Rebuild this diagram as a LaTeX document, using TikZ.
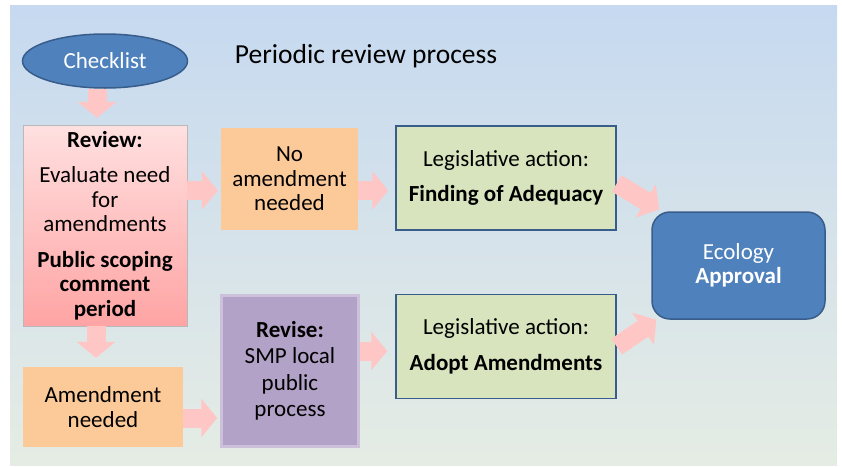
\documentclass[tikz,border=0pt]{standalone}
\usepackage{fontspec}
\setmainfont{Carlito}
\usetikzlibrary{shapes.geometric,arrows.meta}
\definecolor{bluefill}{RGB}{79,129,189}
\definecolor{blueline}{RGB}{56,93,138}
\definecolor{orangefill}{RGB}{252,202,152}
\definecolor{greenfill}{RGB}{215,228,189}
\definecolor{purplefill}{RGB}{179,162,199}
\definecolor{purpleline}{RGB}{204,192,218}
\definecolor{pinktop}{RGB}{255,224,224}
\definecolor{pinkbottom}{RGB}{255,164,164}
\definecolor{arrowpink}{RGB}{255,198,198}
\definecolor{bgtop}{RGB}{198,217,240}
\definecolor{bgbottom}{RGB}{229,236,228}

\begin{document}
\begin{tikzpicture}[x=1pt, y=-1pt, font=\fontsize{23}{24.5}\selectfont,
        box/.style={rectangle, align=center, inner sep=0pt},
        outcome/.style={box, fill=orangefill, minimum width=137pt},
        action/.style={box, fill=greenfill, draw=blueline, line width=1.5pt, minimum width=220pt, minimum height=104pt},
        flow/.style={line width=19pt, draw=arrowpink, -{Triangle[length=16pt,width=38pt]}, shorten >=3pt}]

    \useasboundingbox (0,0) rectangle (842,466);
    \shade[top color=bgtop, bottom color=bgbottom] (10,5) rectangle (837,465);

    \node[ellipse, fill=bluefill, draw=blueline, line width=1.5pt, text=white,
        minimum width=165pt, minimum height=54pt] (chk) at (105,61) {Checklist};
    \node[font=\fontsize{27.5}{32}\selectfont] (ttl) at (366,56) {Periodic review process};

    \node[box, top color=pinktop, bottom color=pinkbottom, draw=gray!55,
        minimum width=164pt, minimum height=201pt] (rev) at (105,225.5)
        {\textbf{Review:}\\[11pt] Evaluate need\\for\\amendments\\[11pt]
         \textbf{Public scoping}\\\textbf{comment}\\\textbf{period}};
    \node[outcome, minimum height=102pt] (noamd) at (289.5,179) {No\\amendment\\needed};
    \node[outcome, minimum width=160pt, minimum height=80pt] (amd) at (103,407) {Amendment\\needed};
    \node[box, fill=purplefill, draw=purpleline, line width=2.5pt,
        minimum width=137pt, minimum height=151pt] (revs) at (290,371)
        {\textbf{Revise:}\\[2pt] SMP local\\[2pt] public\\[2pt] process};
    \node[action] (fin) at (506,178) {Legislative action:\\[11pt] \textbf{Finding of Adequacy}};
    \node[action] (adp) at (506,346.5) {Legislative action:\\[11pt] \textbf{Adopt Amendments}};
    \node[box, fill=bluefill, draw=blueline, line width=1.5pt, rounded corners=18pt, text=white,
        minimum width=173pt, minimum height=107pt] (eco) at (738.5,265.5) {Ecology\\\textbf{Approval}};

    \draw[flow, shorten >=7pt] ([xshift=-8pt]chk.south) -- ([xshift=-8pt]rev.north);
    \draw[flow] ([yshift=-11.5pt]noamd.west -| rev.east) -- ([yshift=-11.5pt]noamd.west);
    \draw[flow, shorten >=7pt] ([yshift=-11.5pt]noamd.east) -- ([yshift=-11.5pt]noamd.east -| fin.west);
    \draw[flow, shorten >=0pt] ([yshift=-5.5pt]fin.east) -- ([xshift=8pt,yshift=2pt]eco.north west);
    \draw[flow, shorten >=9pt] ([xshift=-9pt]rev.south) -- ([xshift=-9pt]rev.south |- amd.north);
    \draw[flow] ([yshift=-11pt]amd.east) -- ([yshift=-11pt]amd.east -| revs.west);
    \draw[flow, shorten >=8pt] ([yshift=-4.5pt]adp.west -| revs.east) -- ([yshift=-4.5pt]adp.west);
    \draw[flow, shorten >=0pt] (adp.east) -- ([xshift=5pt]eco.south west);
\end{tikzpicture}
\end{document}
